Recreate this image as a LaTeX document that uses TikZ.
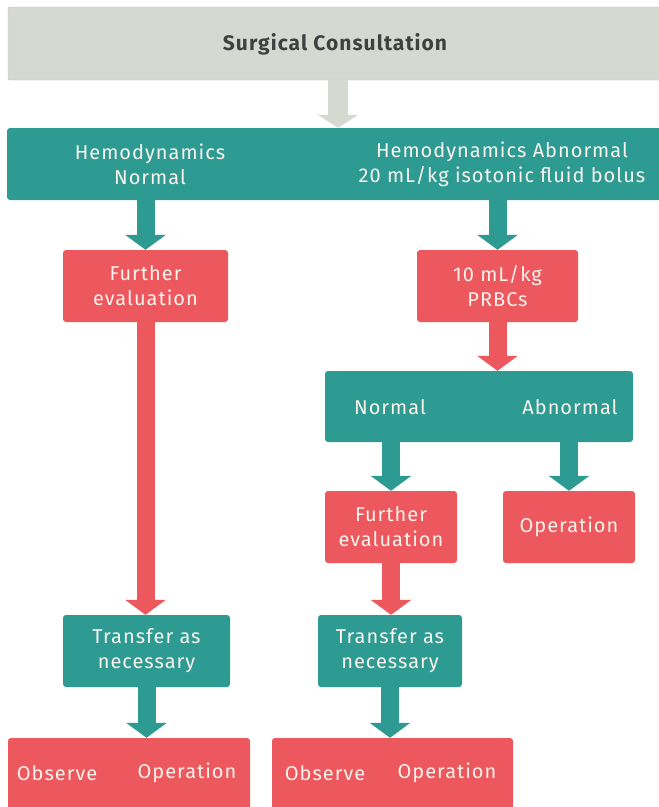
\documentclass[tikz,border=0pt]{standalone}
\usepackage{fontspec}
\setmainfont{Fira Sans}[LetterSpace=5]
\usetikzlibrary{arrows.meta}
\definecolor{tealbox}{RGB}{46,155,147}
\definecolor{coral}{RGB}{236,88,93}
\definecolor{greybox}{RGB}{214,216,210}
\definecolor{greyline}{RGB}{190,192,186}
\definecolor{cream}{RGB}{250,242,236}
\tikzset{
  gbox/.style={fill=greybox,draw=greyline,rounded corners=2pt,inner sep=0pt},
  tbox/.style={fill=tealbox,rounded corners=3pt,inner sep=0pt,text=cream,align=center,
    font=\fontsize{20}{25}\selectfont},
  rbox/.style={fill=coral,rounded corners=3pt,inner sep=0pt,text=cream,align=center,
    font=\fontsize{20}{25}\selectfont},
  wtext/.style={text=cream,align=center,font=\fontsize{20}{25}\selectfont},
  tarrow/.style={draw=tealbox,line width=18pt,-{Triangle[length=15pt,width=40pt]}},
  rarrow/.style={draw=coral,line width=18pt,-{Triangle[length=15pt,width=40pt]}},
  garrow/.style={draw=greybox,line width=20pt,-{Triangle[length=13pt,width=40pt]}}
}
\begin{document}
\begin{tikzpicture}[x=1pt,y=-1pt]
\useasboundingbox (0,0) rectangle (659,807);

%boxes
\node[gbox,minimum width=660,minimum height=73] (consult) at (338,43.5) {};
\node[tbox,minimum width=660,minimum height=72] (hemo) at (337,164) {};
\node[rbox,minimum width=165,minimum height=72] (fe1) at (145.5,286) {Further\\evaluation};
\node[rbox,minimum width=161,minimum height=72] (prbc) at (497.5,286) {10 mL/kg\\PRBCs};
\node[tbox,minimum width=308,minimum height=71] (nab) at (479,406.5) {};
\node[rbox,minimum width=132,minimum height=72] (fe2) at (391,527) {Further\\evaluation};
\node[rbox,minimum width=132,minimum height=72] (op) at (569,527) {Operation};
\node[tbox,minimum width=167,minimum height=72] (tr1) at (146.5,651) {Transfer as\\necessary};
\node[tbox,minimum width=144,minimum height=72] (tr2) at (390,651) {Transfer as\\necessary};
\node[rbox,minimum width=242,minimum height=80] (ob1) at (129,778) {};
\node[rbox,minimum width=241,minimum height=80] (ob2) at (392.5,778) {};

%some labels
\node[text=black!75,font=\fontsize{21}{24}\selectfont\bfseries] (consultT) at (335,44) {Surgical Consultation};
\node[wtext] (hemoN) at (150,164) {Hemodynamics\\Normal};
\node[wtext] (hemoA) at (502,164) {Hemodynamics Abnormal\\20 mL/kg isotonic fluid bolus};
\node[wtext] (nabN) at (390,407) {Normal};
\node[wtext] (nabA) at (570,407) {Abnormal};
\node[wtext] (ob1O) at (57,773) {Observe};
\node[wtext] (ob1P) at (187,773) {Operation};
\node[wtext] (ob2O) at (325,773) {Observe};
\node[wtext] (ob2P) at (447,773) {Operation};

%some arrows
\draw[garrow] (consult.south) -- (consult.south |- hemo.north);
\draw[tarrow] (hemo.south -| fe1.north) -- (fe1.north);
\draw[tarrow] (hemo.south -| prbc.north) -- (prbc.north);
\draw[rarrow] (prbc.south) -- (prbc.south |- nab.north);
\draw[tarrow] (nab.south -| fe2.north) -- (fe2.north);
\draw[tarrow] (nab.south -| op.north) -- (op.north);
\draw[rarrow] (fe1.south) -- (fe1.south |- tr1.north);
\draw[rarrow] (fe2.south) -- (fe2.south |- tr2.north);
\draw[tarrow] (tr1.south) -- (tr1.south |- ob1.north);
\draw[tarrow] (tr2.south) -- (tr2.south |- ob2.north);
\end{tikzpicture}
\end{document}
